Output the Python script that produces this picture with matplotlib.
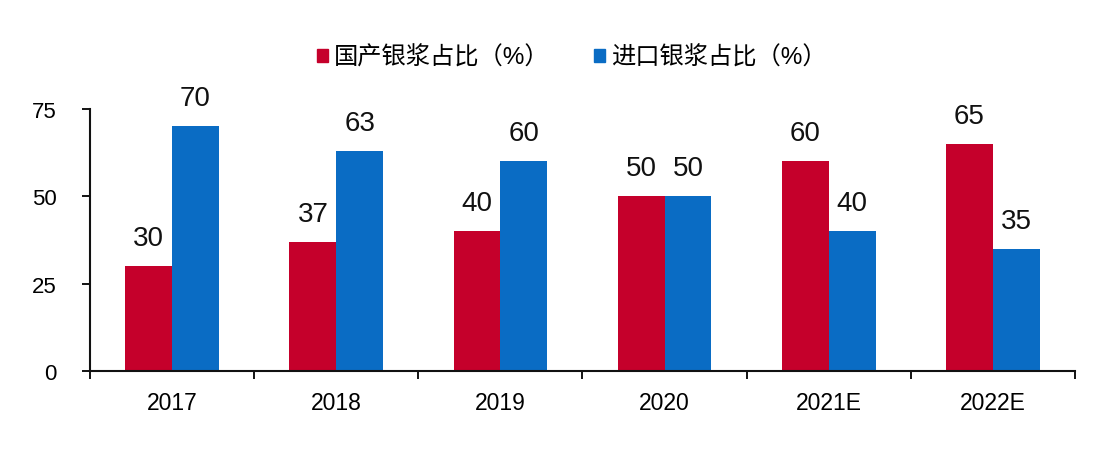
import matplotlib.pyplot as plt
import numpy as np
from matplotlib.patches import Patch

plt.rcParams['font.family'] = ['Liberation Sans', 'Noto Sans CJK SC', 'DejaVu Sans']

years = ['2017', '2018', '2019', '2020', '2021E', '2022E']
domestic = [30, 37, 40, 50, 60, 65]
imported = [70, 63, 60, 50, 40, 35]
labels = ['国产银浆占比（%）', '进口银浆占比（%）']

red = '#C5002B'
blue = '#0A6CC4'

fig = plt.figure(figsize=(11.08, 4.56), dpi=100)
ax = fig.add_axes([0.0812, 0.184, 0.889, 0.575])

x = np.arange(len(years))
w = 0.285
b1 = ax.bar(x - w / 2, domestic, w, color=red)
b2 = ax.bar(x + w / 2, imported, w, color=blue)

for bars, vals in ((b1, domestic), (b2, imported)):
    for rect, v in zip(bars, vals):
        ax.text(rect.get_x() + rect.get_width() / 2, v + 4.3, str(v),
                ha='center', va='bottom', fontsize=20, color='#111111')

ax.set_xlim(-0.5, 5.5)
ax.set_ylim(0, 75)
ax.set_yticks([0, 25, 50, 75])
ax.set_xticks(np.arange(-0.5, 6, 1))
ax.set_xticklabels([])
ax.set_xticks(x, minor=True)
ax.set_xticklabels(years, minor=True)
ax.tick_params(axis='x', which='minor', length=0, pad=14, labelsize=16.5)
ax.tick_params(axis='x', which='major', length=6, width=1.3, direction='out')
ax.tick_params(axis='y', length=6, width=1.3, direction='out', pad=18, labelsize=16)
for s in ('top', 'right'):
    ax.spines[s].set_visible(False)
for s in ('left', 'bottom'):
    ax.spines[s].set_linewidth(1.5)
    ax.spines[s].set_color('#111111')

handles = [Patch(color=red), Patch(color=blue)]
fig.legend(handles, labels, loc='center', bbox_to_anchor=(0.516, 0.872), ncol=2,
           frameon=False, fontsize=17.5, handlelength=0.45, handleheight=0.45,
           handletextpad=0.25, columnspacing=1.8)

fig.savefig('out.png', dpi=100)
